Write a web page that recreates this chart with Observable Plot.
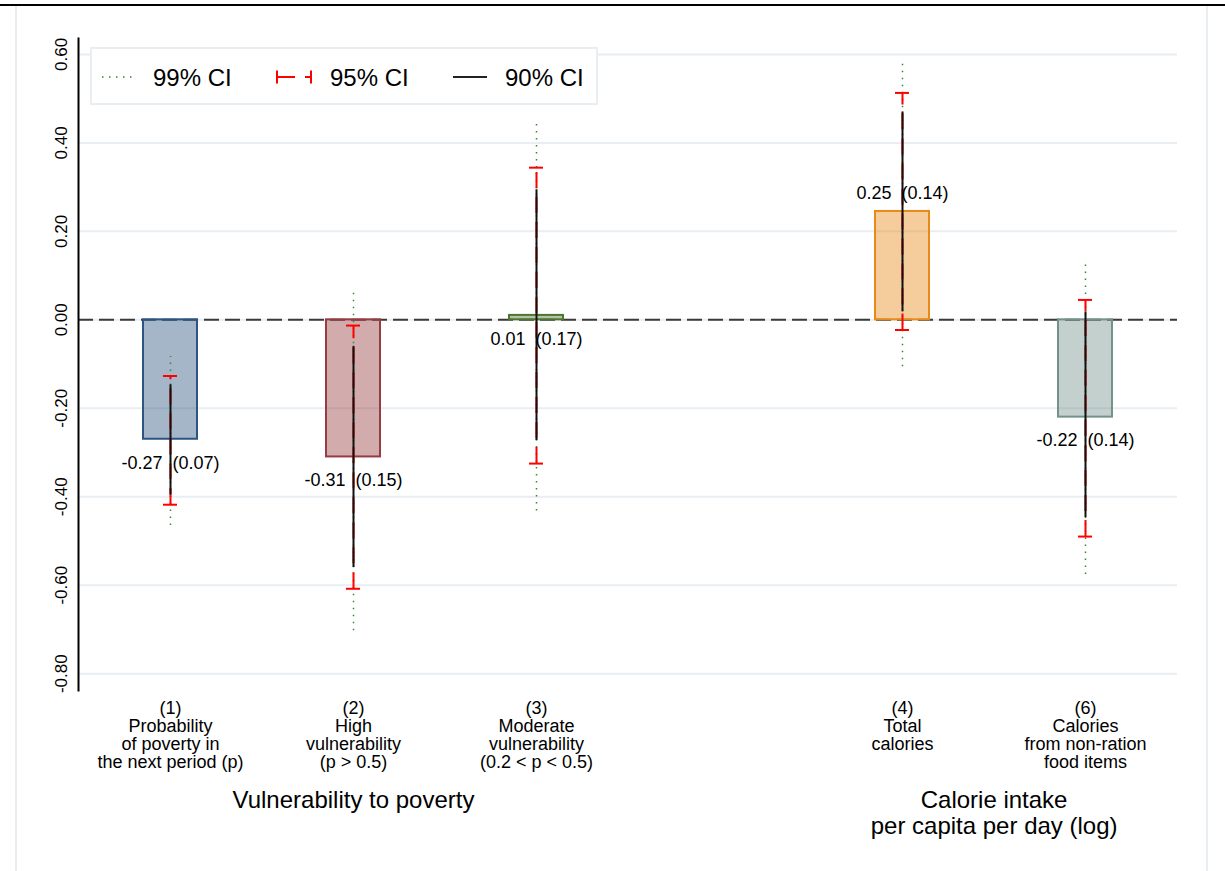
<!DOCTYPE html>
<html><head><meta charset="utf-8">
<script src="https://cdn.jsdelivr.net/npm/d3@7"></script>
<script src="https://cdn.jsdelivr.net/npm/@observablehq/plot@0.6"></script>
<style>
body{margin:0;background:#fff;}
#wrap{position:relative;width:1225px;height:871px;overflow:hidden;background:#fff;font-family:"Liberation Sans",Arial,sans-serif;}
#chart{position:absolute;left:0;top:0;}
.line{position:absolute;}
#legend{position:absolute;left:90px;top:47px;}
</style></head><body>
<div id="wrap">
  <div id="chart"></div>
  <div class="line" style="left:0;top:4px;width:1225px;height:2px;background:#000"></div>
  <div class="line" style="left:15px;top:6px;width:2px;height:865px;background:#e8eef1"></div>
  <div class="line" style="left:1206px;top:6px;width:2px;height:865px;background:#e8eef1"></div>
  <svg id="legend" width="508" height="58" font-family="Liberation Sans, Arial, sans-serif">
    <rect x="1" y="1" width="506" height="56" fill="#fff" stroke="#e8eef1" stroke-width="2"></rect>
    <line x1="12" x2="42" y1="30" y2="30" stroke="#2e8b2e" stroke-width="1.5" stroke-dasharray="1.5,5.5"></line>
    <text x="63" y="38.6" font-size="24" fill="#000">99% CI</text>
    <path d="M187,30H221" stroke="#ff0000" stroke-width="2" stroke-dasharray="18,10" fill="none"></path>
    <path d="M187,23.5V36.5M221,23.5V36.5" stroke="#ff0000" stroke-width="2" fill="none"></path>
    <text x="240" y="38.6" font-size="24" fill="#000">95% CI</text>
    <line x1="363" x2="397" y1="30" y2="30" stroke="#222" stroke-width="2"></line>
    <text x="415" y="38.6" font-size="24" fill="#000">90% CI</text>
  </svg>
</div>
<script>
// ---- data ----
const categories = ["(1)", "(2)", "(3)", "(4)", "(6)"];
const categoryLabels = [
  "(1)\nProbability\nof poverty in\nthe next period (p)",
  "(2)\nHigh\nvulnerability\n(p > 0.5)",
  "(3)\nModerate\nvulnerability\n(0.2 < p < 0.5)",
  "(4)\nTotal\ncalories",
  "(6)\nCalories\nfrom non-ration\nfood items"
];
const estimates = [-0.27, -0.31, 0.01, 0.245, -0.22];
const estimateLabels = ["-0.27", "-0.31", "0.01", "0.25", "-0.22"];
const seLabels = ["(0.07)", "(0.15)", "(0.17)", "(0.14)", "(0.14)"];
const ci99Lo = [-0.465, -0.703, -0.432, -0.106, -0.576];
const ci99Hi = [-0.083, 0.068, 0.45, 0.583, 0.131];
const ci95Lo = [-0.418, -0.608, -0.325, -0.023, -0.49];
const ci95Hi = [-0.127, -0.013, 0.344, 0.513, 0.045];
const ci90Lo = [-0.396, -0.56, -0.273, 0.018, -0.447];
const ci90Hi = [-0.147, -0.06, 0.294, 0.47, 0.018];
const barColors = ["#2d5580", "#963c42", "#4f7530", "#e8891a", "#74918a"];
const yTicks = [-0.8, -0.6, -0.4, -0.2, 0, 0.2, 0.4, 0.6];
const groupLabel1 = "Vulnerability to poverty";
const groupLabel2 = "Calorie intake\nper capita per day (log)";

const rows = categories.map((c, i) => ({
  name: c, est: estimates[i],
  label: estimateLabels[i] + "\u00a0\u00a0" + seLabels[i],
  lo99: ci99Lo[i], hi99: ci99Hi[i], lo95: ci95Lo[i], hi95: ci95Hi[i],
  lo90: ci90Lo[i], hi90: ci90Hi[i], color: barColors[i]
}));
const labelOf = new Map(categories.map((c, i) => [c, categoryLabels[i]]));
const xDomain = [categories[0], categories[1], categories[2], "gap", categories[3], categories[4]];
const font = "Liberation Sans, Arial, sans-serif";

const chart = Plot.plot({
  width: 1225,
  height: 871,
  marginTop: 38,
  marginBottom: 181,
  marginLeft: 78,
  marginRight: 48,
  style: {background: "transparent", fontFamily: font, color: "#000"},
  x: {type: "band", domain: xDomain, paddingInner: 0.705, paddingOuter: 0.3525, align: 0.5},
  y: {domain: [-0.838, 0.636]},
  color: {type: "identity"},
  marks: [
    Plot.gridY(yTicks, {stroke: "#e8eef1", strokeOpacity: 1, strokeWidth: 2}),
    Plot.ruleY([0], {stroke: "#3a3a3a", strokeWidth: 2, strokeDasharray: "15,6"}),
    Plot.barY(rows, {x: "name", y: "est", fill: "color", fillOpacity: 0.43, stroke: "color", strokeWidth: 2}),
    Plot.ruleX(rows, {x: "name", y1: "lo99", y2: "hi99", stroke: "#2e8b2e", strokeWidth: 1.5, strokeDasharray: "1.5,5.5"}),
    Plot.ruleX(rows, {x: "name", y1: "lo95", y2: "hi95", stroke: "#ff0000", strokeWidth: 2, strokeDasharray: "16,9"}),
    Plot.tickY(rows, {x: "name", y: "lo95", stroke: "#ff0000", strokeWidth: 2, insetLeft: 20, insetRight: 20}),
    Plot.tickY(rows, {x: "name", y: "hi95", stroke: "#ff0000", strokeWidth: 2, insetLeft: 20, insetRight: 20}),
    Plot.ruleX(rows, {x: "name", y1: "lo90", y2: "hi90", stroke: "#111", strokeWidth: 2}),
    // value labels (below the bar end, except the large positive one which sits above)
    Plot.text(rows, {filter: d => d.est <= 0.1, x: "name", y: "est", text: "label", dy: 23.5, fontSize: 18, fill: "#000"}),
    Plot.text(rows, {filter: d => d.est > 0.1, x: "name", y: "est", text: "label", dy: -18, fontSize: 18, fill: "#000"}),
    // group labels
    Plot.text([groupLabel1], {x: () => categories[1], frameAnchor: "bottom", lineAnchor: "middle", dy: 110, text: d => d, fontSize: 24, fill: "#000"}),
    Plot.text([groupLabel2], {x: () => categories[3], frameAnchor: "bottom", lineAnchor: "middle", dx: 91.6, dy: 122.5, text: d => d, fontSize: 24, lineHeight: 1.05, fill: "#000"}),
    Plot.frame({anchor: "left", stroke: "#000", strokeWidth: 2}),
    Plot.axisY({ticks: yTicks, tickFormat: d => d.toFixed(2), tickSize: 0, tickRotate: -90, tickPadding: 12, fontSize: 17, label: null}),
    Plot.axisX({ticks: categories, tickFormat: d => labelOf.get(d) || "", tickSize: 0, tickPadding: 11, fontSize: 18, lineHeight: 1.0, label: null})
  ]
});
document.getElementById("chart").appendChild(chart);
</script>
</body></html>
